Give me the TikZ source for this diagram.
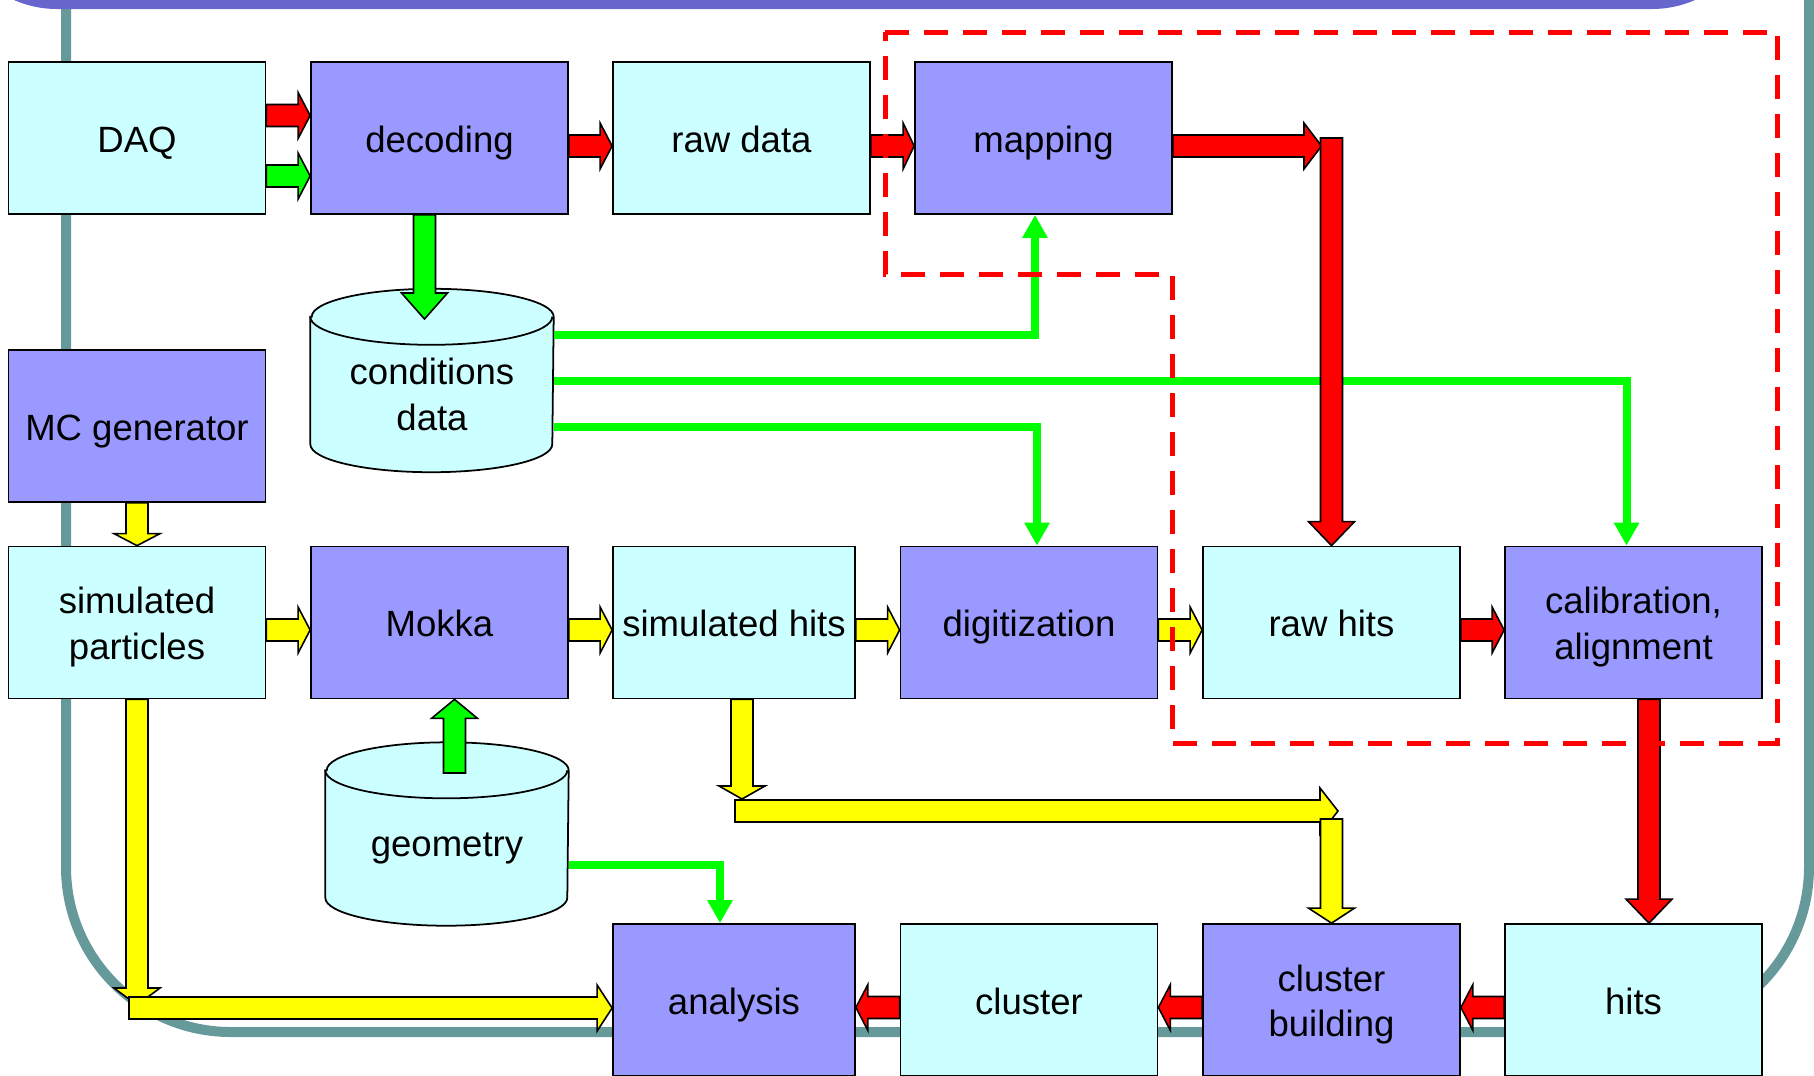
\documentclass[tikz,border=0pt]{standalone}
\usepackage{fontspec}
\setmainfont{Liberation Sans}
\usetikzlibrary{calc,arrows.meta,backgrounds}

\definecolor{datacyan}{HTML}{CCFFFF}
\definecolor{procblue}{HTML}{9999FF}
\definecolor{flowred}{HTML}{FF0000}
\definecolor{feedgreen}{HTML}{00FF00}
\definecolor{simyellow}{HTML}{FFFF00}
\definecolor{framegreen}{HTML}{669999}
\definecolor{titleband}{HTML}{6666CC}

\newcommand\capstrut{\rule{0pt}{3.8mm}}

\tikzset{
  every node/.style={font=\fontsize{10.4}{13}\selectfont},
  box/.style={draw=black, line width=0.5pt, inner sep=0pt, align=center,
    minimum width=25.7mm, minimum height=15.2mm,
    execute at begin node={\capstrut},
    execute at end node={\rule[-1mm]{0pt}{1mm}}},
  data/.style={box, fill=datacyan},
  proc/.style={box, fill=procblue},
  narrow/.style={minimum width=24.2mm},
  dbnode/.style={inner sep=0pt, align=center, minimum width=24.2mm, minimum height=9.8mm},
  dbshape/.style={draw=black, line width=0.5pt, fill=datacyan},
  feed/.style={draw=feedgreen, line width=0.8mm, -{Triangle[length=2.3mm,width=2.4mm]}},
  blockarrow/.style={draw=black, line width=0.45pt},
  region/.style={draw=flowred, line width=0.5mm, dash pattern=on 2.4mm off 1.5mm},
  frame/.style={draw=framegreen, line width=1mm},
}

\newcommand\shafthalf{1.1mm}
\newcommand\headhalf{2.3mm}
% outlined block arrow: [head length]{fill}{tail}{tip}
\newcommand\blockarrow[4][1.2mm]{%
  \path (#3) coordinate (ba tail) (#4) coordinate (ba tip);
  \path ($(ba tip)!#1!(ba tail)$) coordinate (ba base);
  \filldraw[blockarrow, fill=#2]
    ($(ba tail)!\shafthalf!90:(ba tip)$) -- ($(ba base)!\shafthalf!90:(ba tip)$)
    -- ($(ba base)!\headhalf!90:(ba tip)$) -- (ba tip)
    -- ($(ba base)!\headhalf!-90:(ba tip)$) -- ($(ba base)!\shafthalf!-90:(ba tip)$)
    -- ($(ba tail)!\shafthalf!-90:(ba tip)$) -- cycle;
}

\begin{document}
\begin{tikzpicture}[x=0.1mm,y=0.1mm]
  \path[use as bounding box, clip] (0,0) rectangle (1814,-1075);
  \draw[frame, rounded corners=16.5mm] (66,100) -- (66,-1032) -- (1809,-1032) -- (1809,100);
  \fill[titleband, rounded corners=10.7mm] (-50,300) rectangle (1759,-9);

  % data chain
  \node[data] (daq) at (137,-138) {DAQ};
  \node[proc] (decoding) at (439.5,-138) {decoding};
  \node[data] (rawdata) at (741.5,-138) {raw data};
  \node[proc] (mapping) at (1043.5,-138) {mapping};

  % simulation chain
  \node[proc] (mcgen) at (137,-426) {MC generator};
  \node[data] (simpart) at (137,-622.5) {\capstrut simulated\\particles};
  \node[proc] (mokka) at (439.5,-622.5) {Mokka};
  \node[data, narrow] (simhits) at (734,-622.5) {simulated hits};
  \node[proc] (digit) at (1029,-622.5) {digitization};
  \node[data] (rawhits) at (1331.5,-622.5) {raw hits};
  \node[proc] (calib) at (1633.5,-622.5) {\capstrut calibration,\\alignment};

  % reconstruction
  \node[proc, narrow] (analysis) at (734,-1000) {analysis};
  \node[data] (cluster) at (1029,-1000) {cluster};
  \node[proc] (clbuild) at (1331.5,-1000) {\capstrut cluster\\building};
  \node[data] (hits) at (1633.5,-1000) {hits};

  % databases
  \node[dbnode] (condata) at (432,-394.5) {conditions\\data};
  \node[dbnode] (geometry) at (447,-848) {geometry};
  \begin{scope}[on background layer]
    \foreach \db in {condata, geometry} {
      \filldraw[dbshape] ([yshift=2.8mm]\db.north west) -- (\db.south west)
        arc[start angle=180, end angle=360, x radius=12.1mm, y radius=2.8mm]
        -- ([yshift=2.8mm]\db.north east)
        arc[start angle=0, end angle=180, x radius=12.1mm, y radius=2.8mm] -- cycle;
      \draw[dbshape, fill=none] ([yshift=2.8mm]\db.north west)
        arc[start angle=180, end angle=360, x radius=12.1mm, y radius=2.8mm];
    }
  \end{scope}

  % conditions and geometry feeds
  \draw[feed] (condata.east |- 0,-335) -| (mapping.south -| 1035,0);
  \draw[feed] (condata.east |- 0,-381) -| (calib.north -| 1626.5,0);
  \draw[feed] (condata.east |- 0,-427) -| (digit.north -| 1037,0);
  \draw[feed] (geometry.east |- 0,-864.5) -| (analysis.north -| 720,0);

  % real data flow
  \blockarrow{flowred}{daq.east |- 0,-115.5}{decoding.west |- 0,-115.5}
  \blockarrow{feedgreen}{daq.east |- 0,-176}{decoding.west |- 0,-176}
  \blockarrow{flowred}{decoding.east |- 0,-146}{rawdata.west |- 0,-146}
  \blockarrow[1.1mm]{flowred}{rawdata.east |- 0,-146}{mapping.west |- 0,-146}
  \coordinate (turn) at (rawhits.north |- 0,-138);
  \blockarrow[1.75mm]{flowred}{mapping.east |- 0,-146}{$(turn)+(-10,-8)$}
  \blockarrow[2.4mm]{flowred}{turn}{rawhits.north}
  \coordinate (cdin) at (424.5,-319);
  \blockarrow[2.6mm]{feedgreen}{decoding.south -| cdin}{cdin}
  \coordinate (geoout) at (454.5,-773);
  \blockarrow[1.9mm]{feedgreen}{geoout}{mokka.south -| geoout}

  % simulation flow
  \blockarrow{simyellow}{mcgen.south}{simpart.north}
  \blockarrow{simyellow}{simpart.east |- 0,-630}{mokka.west |- 0,-630}
  \blockarrow{simyellow}{mokka.east |- 0,-630}{simhits.west |- 0,-630}
  \blockarrow{simyellow}{simhits.east |- 0,-630}{digit.west |- 0,-630}
  \blockarrow{simyellow}{digit.east |- 0,-630}{rawhits.west |- 0,-630}
  \blockarrow{flowred}{rawhits.east |- 0,-630}{calib.west |- 0,-630}

  \coordinate (simdrop) at (137,-1005);
  \blockarrow[1.7mm]{simyellow}{simpart.south}{simdrop}
  \blockarrow[1.5mm]{simyellow}{$(simdrop)+(-8,-3)$}{analysis.west |- 0,-1008}

  \coordinate (hitdrop) at (742,-799);
  \blockarrow[1.3mm]{simyellow}{simhits.south -| hitdrop}{hitdrop}
  \blockarrow[1.8mm]{simyellow}{$(hitdrop)+(-7,-12)$}{$(clbuild.north |- hitdrop)+(6.5,-12)$}
  \blockarrow[1.5mm]{simyellow}{$(clbuild.north |- hitdrop)+(0,-20)$}{clbuild.north}

  % reconstruction flow
  \blockarrow[2.4mm]{flowred}{calib.south -| 1649,0}{hits.north -| 1649,0}
  \blockarrow{flowred}{hits.west |- 0,-1007.5}{clbuild.east |- 0,-1007.5}
  \blockarrow{flowred}{clbuild.west |- 0,-1007.5}{cluster.east |- 0,-1007.5}
  \blockarrow{flowred}{cluster.west |- 0,-1007.5}{analysis.east |- 0,-1007.5}

  \draw[region] (885,-32) -- (1777.7,-32) -- (1777.7,-743) -- (mapping.east |- 0,-743)
    -- (mapping.east |- 0,-274) -- (885,-274) -- cycle;
\end{tikzpicture}
\end{document}
